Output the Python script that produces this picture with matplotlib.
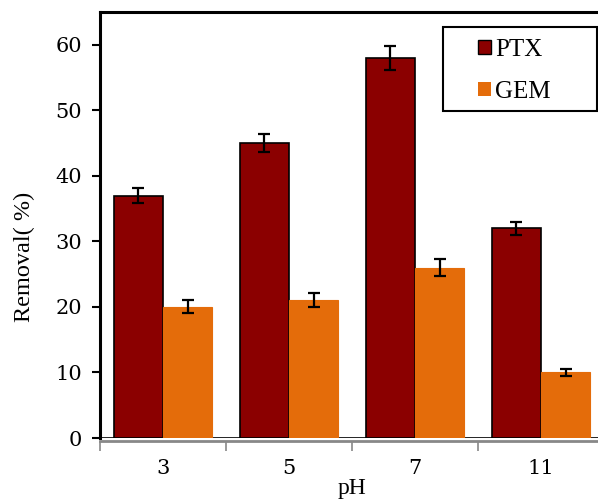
import matplotlib
matplotlib.use("Agg")
import matplotlib.pyplot as plt
from matplotlib.patches import Rectangle
import numpy as np

ph_labels = ["3", "5", "7", "11"]
ptx_values = [37, 45, 58, 32]
ptx_errors = [1.1, 1.4, 1.8, 1.0]
gem_values = [20, 21, 26, 10]
gem_errors = [1.0, 1.05, 1.3, 0.5]

ptx_color = "#8B0000"
gem_color = "#E46C0A"

plt.rcParams["font.family"] = ["DejaVu Serif"]

W, H = 598, 500
fig = plt.figure(figsize=(W / 100, H / 100), dpi=100)
ax = fig.add_axes([100 / W, 62 / H, 504 / W, 426 / H])

x = np.arange(len(ph_labels))
w = 0.39
err_kw = dict(ecolor="black", elinewidth=1.6, capsize=4.5, capthick=1.6)
ax.bar(x - w / 2, ptx_values, w, color=ptx_color, edgecolor="black",
       linewidth=1.2, yerr=ptx_errors, error_kw=err_kw, zorder=2)
ax.bar(x + w / 2, gem_values, w, color=gem_color, edgecolor=gem_color,
       linewidth=0.8, yerr=gem_errors, error_kw=err_kw, zorder=2)

ax.set_xlim(-0.5, len(ph_labels) - 0.5)
ax.set_ylim(0, 65)
ax.set_yticks(np.arange(0, 61, 10))
ax.set_xticks(x)
ax.set_xticklabels(ph_labels)
ax.set_xticks(np.arange(-0.5, len(ph_labels), 1.0), minor=True)

ax.tick_params(axis="y", direction="out", length=6, width=1.5,
               labelsize=15, pad=7)
ax.tick_params(axis="x", which="major", length=0, labelsize=15, pad=13)
ax.tick_params(axis="x", which="minor", direction="out", length=7,
               width=1.2, color="#888888")

for side in ("left", "top"):
    ax.spines[side].set_linewidth(2.2)
    ax.spines[side].set_color("black")
ax.spines["right"].set_visible(False)
ax.spines["bottom"].set_color("#888888")
ax.spines["bottom"].set_linewidth(2.0)
ax.spines["bottom"].set_position(("outward", 2))
ax.axhline(0, color="black", linewidth=1.2, zorder=1)

ax.set_ylabel("Removal( %)", fontsize=17.5, family="Liberation Serif")
ax.yaxis.set_label_coords(-0.128, 0.425)
ax.set_xlabel("pH", fontsize=17, family="Liberation Serif", labelpad=0)

# legend frame drawn as its own box, entries placed inside it
box_l, box_t, box_r, box_b = 443, 27, 597, 111
fig.patches.append(Rectangle((box_l / W, 1 - box_b / H),
                             (box_r - box_l) / W, (box_b - box_t) / H,
                             transform=fig.transFigure, facecolor="white",
                             edgecolor="black", linewidth=1.5, zorder=5))
handles = [Rectangle((0, 0), 1, 1, facecolor=ptx_color, edgecolor="black", linewidth=1.0),
           Rectangle((0, 0), 1, 1, facecolor=gem_color, edgecolor="none")]
leg = fig.legend(handles, ["PTX", "GEM"], loc="upper left",
                 bbox_to_anchor=(478 / W, 1 - 39 / H),
                 bbox_transform=fig.transFigure, borderaxespad=0,
                 prop={"family": "Liberation Serif", "size": 18},
                 handlelength=0.5, handleheight=0.5, handletextpad=0.2,
                 labelspacing=0.78, borderpad=0, frameon=False)
leg.set_zorder(6)

fig.savefig("out.png", dpi=100)
